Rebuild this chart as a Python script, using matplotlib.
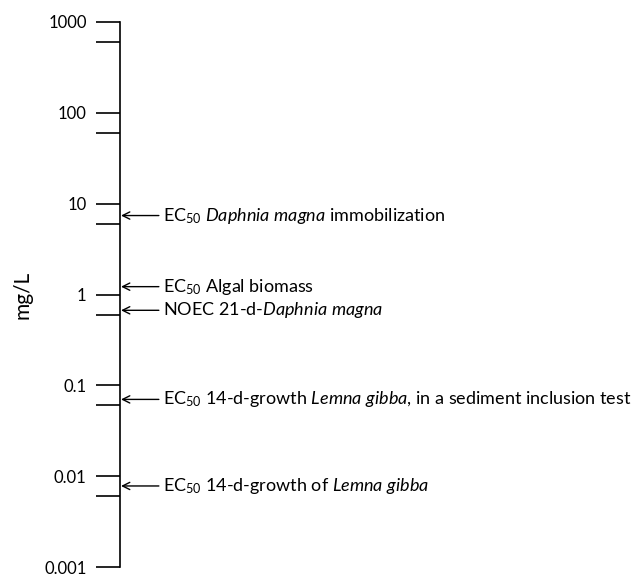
import matplotlib.pyplot as plt

plt.rcParams['font.family'] = ['Lato', 'DejaVu Sans']
plt.rcParams['mathtext.fontset'] = 'custom'
plt.rcParams['mathtext.rm'] = 'Lato'
plt.rcParams['mathtext.it'] = 'Lato:italic'

# axis ticks (mg/L)
decades = [0.001, 0.01, 0.1, 1, 10, 100, 1000]
decade_labels = ["0.001", "0.01", "0.1", "1", "10", "100", "1000"]
minor_ticks = [0.006, 0.06, 0.6, 6, 60, 600]

# toxicity endpoints
endpoint_values = [7.4, 1.22, 0.67, 0.07, 0.0078]
endpoint_labels = [
    r"EC$_{50}$ $\mathit{Daphnia\ magna}$ immobilization",
    r"EC$_{50}$ Algal biomass",
    r"NOEC 21-d-$\mathit{Daphnia\ magna}$",
    r"EC$_{50}$ 14-d-growth $\mathit{Lemna\ gibba}$, in a sediment inclusion test",
    r"EC$_{50}$ 14-d-growth of $\mathit{Lemna\ gibba}$",
]

fig = plt.figure(figsize=(6.32, 5.77), dpi=100)
ax = fig.add_axes([120 / 632, 10 / 577, 1 - 120 / 632, 545 / 577])

ax.set_yscale('log')
ax.set_ylim(0.001, 1000)
ax.set_xlim(0, 1)

for s in ['top', 'right', 'bottom']:
    ax.spines[s].set_visible(False)
ax.spines['left'].set_linewidth(1.2)
ax.set_xticks([])

ax.set_yticks(decades)
ax.set_yticklabels(decade_labels)
ax.set_yticks(minor_ticks, minor=True)
ax.yaxis.set_minor_formatter(plt.NullFormatter())
ax.tick_params(axis='y', which='both', length=17, width=1.2, labelsize=12, pad=7)

# y label placed by hand so it stays inside the figure
fig.text(23 / 632, 1 - 295 / 577, "mg/L", rotation=90, fontsize=15,
         ha='center', va='center')

for v, lab in zip(endpoint_values, endpoint_labels):
    ax.annotate(lab, xy=(0.002, v), xycoords=('axes fraction', 'data'),
                xytext=(42, 0), textcoords='offset pixels',
                va='center', ha='left', fontsize=13,
                arrowprops=dict(arrowstyle='->', lw=1.0, color='black',
                                shrinkA=1, shrinkB=0))

fig.savefig("out.png", dpi=100)
